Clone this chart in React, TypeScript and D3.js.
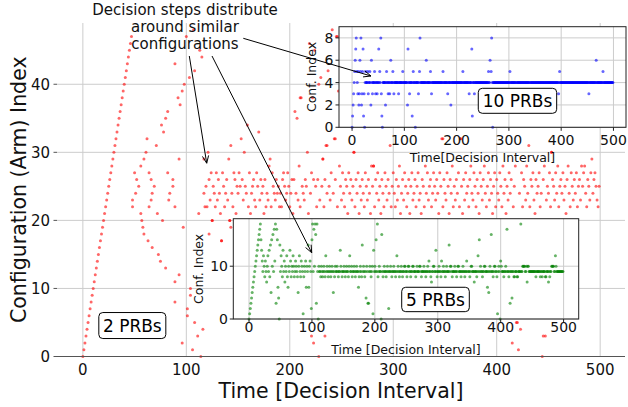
import React from 'react';
import * as d3 from 'd3';

const W = 628;
const H = 407;
const FONT = '"DejaVu Sans", sans-serif';

// ---------- tick labels ----------
const mainXTicks = [0, 100, 200, 300, 400, 500];
const mainYTicks = [0, 10, 20, 30, 40];
const insetXTicks = [0, 100, 200, 300, 400, 500];
const greenYTicks = [0, 10];
const blueYTicks = [0, 2, 4, 6, 8];

// ---------- 2 PRBs (red) ----------
const redRamp = [0, 1, 2, 3, 4, 5, 6, 7, 8, 9, 10, 11, 12, 13, 14, 15, 16, 17, 18, 19, 20, 21, 22, 23,
  24, 25, 26, 27, 28, 29, 30, 31, 32, 33, 34, 35, 36, 37, 38, 39, 40, 41, 42, 43, 44, 45, 46, 47];

const redEarly: [number, number][] = [
  [48, 22], [48, 23], [50, 27], [51, 24], [52, 26], [54, 25], [56, 21], [57, 20], [56, 28], [58, 19],
  [59, 18], [59, 29], [61, 30], [62, 32], [63, 17], [64, 27], [64, 22], [66, 26], [66, 23], [67, 24],
  [69, 25], [72, 21], [77, 20], [67, 16], [71, 31], [73, 15], [75, 14], [76, 34], [80, 35], [78, 33],
  [80, 13], [82, 27], [82, 36], [84, 24], [83, 23], [87, 26], [87, 25], [89, 22], [89, 43], [89, 11],
  [89, 8], [92, 38], [93, 12], [93, 29], [94, 37], [96, 39], [96, 2], [97, 19], [98, 40], [100, 47],
  [101, 7], [101, 6], [103, 41], [104, 9], [104, 10], [106, 1], [108, 42], [107, 48], [108, 5], [111, 3],
  [112, 21], [113, 45], [115, 44], [114, 0], [116, 4], [117, 29], [117, 24], [118, 22], [119, 25],
];

const redSteadyStart = 120;
const redSteady = [
  22, 30, 26, 23, 27, 20, 25, 24, 22, 27, 23, 26, 24, 21, 17, 27, 25, 22, 24, 26,
  23, 29, 20, 31, 24, 22, 27, 26, 21, 25, 24, 27, 25, 32, 26, 23, 30, 25, 24, 34,
  22, 27, 21, 24, 25, 26, 23, 22, 27, 25, 33, 23, 26, 24, 25, 21, 26, 22, 24, 23,
  28, 29, 22, 27, 25, 24, 23, 26, 24, 25, 22, 24, 22, 26, 27, 25, 23, 24, 27, 25,
  22, 24, 26, 21, 26, 36, 24, 35, 23, 28, 22, 38, 25, 24, 23, 26, 25, 30, 21, 46,
  24, 27, 38, 26, 45, 25, 22, 26, 40, 23, 41, 25, 29, 22, 26, 31, 24, 42, 25, 23,
  27, 48, 24, 32, 26, 47, 22, 39, 28, 25, 23, 27, 24, 22, 26, 25, 21, 27, 24, 26,
  23, 25, 30, 22, 26, 24, 27, 21, 25, 23, 26, 24, 22, 27, 25, 23, 26, 24, 21, 28,
  25, 28, 22, 26, 24, 27, 23, 25, 21, 26, 24, 22, 27, 25, 23, 26, 24, 31, 22, 25,
  27, 24, 22, 26, 23, 25, 28, 21, 24, 26, 23, 27, 25, 22, 24, 26, 21, 25, 27, 23,
  24, 26, 22, 25, 27, 23, 24, 21, 26, 25, 22, 28, 24, 27, 23, 25, 26, 22, 24, 27,
  25, 23, 26, 24, 21, 27, 25, 32, 22, 26, 24, 23, 27, 25, 21, 26, 24, 28, 22, 25,
  23, 26, 24, 27, 22, 32, 25, 21, 26, 23, 27, 24, 25, 22, 26, 28, 24, 23, 27, 25,
  22, 26, 24, 21, 27, 25, 23, 26, 28, 24, 22, 25, 27, 23, 26, 24, 21, 25, 27, 22,
  26, 24, 23, 27, 25, 22, 28, 24, 26, 21, 25, 23, 27, 24, 26, 2, 22, 25, 28, 5,
  5, 1, 24, 4, 27, 22, 26, 25, 23, 28, 24, 31, 22, 26, 25, 27, 23, 21, 26, 24,
  25, 27, 22, 24, 0, 26, 28, 3, 23, 25, 24, 27, 22, 30, 26, 25, 23, 27, 24, 28,
  22, 25, 26, 24, 27, 23, 25, 21, 26, 28, 24, 22, 27, 25, 23, 26, 24, 27, 22, 25,
  26, 23, 28, 25, 27, 28, 24, 22, 26, 25, 23, 27, 29, 24, 26, 27, 25, 23, 22, 25,
];

const redExtra: [number, number][] = [
  [122, 18], [125, 20], [134, 17], [143, 19], [142, 20], [221, 3], [223, 2], [228, 0], [234, 3],
  [262, 30], [348, 32], [365, 32], [281, 28], [453, 30], [445, 3], [210, 38], [246, 47], [232, 29],
  [244, 32], [236, 31],
];

// ---------- 5 PRBs (green), one value per decision step ----------
const greenSeq = [
  0, 1, 2, 3, 4, 5, 6, 7, 8, 9, 10, 11, 12, 13, 14, 15, 16, 17, 18, 15,
  13, 11, 9, 12, 10, 8, 11, 9, 7, 10, 12, 9, 13, 8, 14, 5, 15, 10, 16, 9,
  17, 11, 18, 3, 17, 15, 6, 4, 0, 14, 9, 12, 10, 8, 13, 9, 11, 7, 10, 9,
  12, 8, 6, 10, 9, 13, 11, 8, 10, 9, 12, 10, 8, 9, 11, 10, 9, 8, 5, 10,
  12, 9, 8, 11, 10, 9, 1, 8, 10, 9, 11, 6, 10, 9, 14, 6, 10, 11, 9, 2,
  15, 18, 9, 17, 10, 18, 16, 3, 18, 9, 0, 10, 9, 9, 8, 10, 9, 8, 9, 10,
  9, 8, 12, 9, 10, 9, 8, 9, 10, 9, 8, 9, 10, 9, 5, 9, 8, 10, 9, 9,
  10, 9, 8, 9, 9, 13, 10, 9, 8, 9, 9, 10, 9, 8, 9, 10, 9, 9, 8, 10,
  12, 9, 9, 10, 8, 9, 9, 10, 9, 8, 9, 10, 9, 9, 6, 8, 9, 10, 9, 8,
  14, 9, 10, 9, 8, 9, 4, 10, 9, 3, 3, 9, 10, 9, 8, 9, 10, 1, 13, 9,
  10, 9, 15, 9, 18, 8, 9, 10, 9, 9, 0, 16, 9, 8, 9, 10, 9, 9, 8, 9,
  10, 9, 2, 9, 9, 10, 9, 8, 9, 9, 10, 9, 9, 8, 9, 12, 9, 10, 9, 8,
  9, 9, 10, 9, 8, 9, 9, 10, 10, 9, 9, 8, 9, 10, 10, 9, 9, 8, 9, 9,
  10, 10, 9, 9, 9, 8, 9, 10, 9, 9, 9, 10, 10, 9, 8, 9, 9, 9, 10, 9,
  9, 8, 9, 9, 10, 9, 11, 9, 9, 8, 7, 9, 9, 10, 10, 9, 9, 13, 9, 8,
  9, 9, 10, 9, 9, 8, 11, 9, 9, 10, 9, 9, 8, 9, 10, 9, 9, 9, 14, 9,
  10, 10, 9, 8, 9, 9, 9, 10, 9, 9, 8, 9, 10, 10, 9, 9, 9, 8, 9, 9,
  10, 9, 9, 8, 9, 9, 11, 9, 2, 9, 9, 8, 9, 10, 10, 9, 9, 9, 7, 9,
  9, 9, 8, 9, 12, 9, 15, 9, 10, 9, 9, 8, 9, 9, 10, 10, 9, 9, 9, 6,
  9, 5, 9, 10, 9, 16, 9, 9, 8, 9, 10, 10, 9, 9, 8, 1, 9, 10, 9, 0,
  11, 10, 9, 9, 9, 8, 9, 9, 10, 9, 17, 9, 9, 8, 9, 3, 9, 9, 4, 9,
  9, 8, 8, 9, 9, 9, 8, 8, 9, 9, 9, 9, 18, 9, 9, 10, 10, 10, 10, 9,
  9, 10, 7, 10, 10, 9, 9, 9, 9, 9, 9, 9, 9, 9, 9, 9, 8, 9, 9, 9,
  9, 9, 9, 8, 9, 9, 8, 9, 9, 9, 9, 8, 8, 9, 9, 9, 7, 9, 8, 9,
  9, 10, 10, 10, 10, 9, 9, 12, 10, 9, 9, 9, 9, 9, 9, 9, 9, 9, 9, 9,
];

// ---------- 10 PRBs (blue), one digit per decision step ----------
const blueSeq = [
  '0123456785', '4352365823', '5713045444', '5344542643', '4445434434',
  '4745483104', '4444245443', '4434644454', '3444444443', '4444444544',
  '4444442744', '3444414544', '4044444345', '8444444444', '4464444444',
  '5434444444', '4444444444', '4444544444', '4443444442', '4444444444',
  '4444444444', '4454444444', '4444344447', '1444344444', '4444444444',
  '4444444444', '4544635840', '4444444444', '4444444444', '4444444444',
  '4454444444', '4444344444', '4444444444', '4444444444', '3444444444',
  '4444444444', '4444444444', '4444444444', '4444444444', '4444434544',
  '4444444444', '4444444444', '4444444444', '4444444444', '4444444444',
  '4443444444', '4444444644', '4444444444', '5444444444', '4444444444',
];

// ---------- build point tables ----------
const redPoints: [number, number][] = [
  ...redRamp.map((v, i) => [i, v] as [number, number]),
  ...redEarly,
  ...redSteady.map((v, i) => [redSteadyStart + i, v] as [number, number]),
  ...redExtra,
];
const greenPoints: [number, number][] = greenSeq.map((v, i) => [i, v]);
const bluePoints: [number, number][] = blueSeq.join('').split('').map((c, i) => [i, +c]);

const GRID = '#cccccc';

function Arrow({ x1, y1, x2, y2 }: { x1: number; y1: number; x2: number; y2: number }) {
  const a = Math.atan2(y2 - y1, x2 - x1);
  const L = 8;
  const ang = 0.4;
  const p1 = [x2 - L * Math.cos(a - ang), y2 - L * Math.sin(a - ang)];
  const p2 = [x2 - L * Math.cos(a + ang), y2 - L * Math.sin(a + ang)];
  return (
    <g stroke="black" strokeWidth={1} fill="none">
      <line x1={x1} y1={y1} x2={x2} y2={y2} />
      <path d={`M${p1[0]},${p1[1]}L${x2},${y2}L${p2[0]},${p2[1]}`} />
    </g>
  );
}

function Box({ cx, cy, w, h, text, size }: { cx: number; cy: number; w: number; h: number; text: string; size: number }) {
  return (
    <g>
      <rect x={cx - w / 2} y={cy - h / 2} width={w} height={h} rx={4} ry={4} fill="white" stroke="black" strokeWidth={1} />
      <text x={cx} y={cy} dy="0.36em" textAnchor="middle" fontSize={size} fontFamily={FONT} fill="black">{text}</text>
    </g>
  );
}

type InsetProps = {
  left: number; right: number; top: number; bottom: number;
  yMax: number; yTicks: number[]; points: [number, number][]; color: string;
  xLabel: string; xLabelY: number; yLabelX: number; xTickY: number; yTickX: number;
};

function Inset(p: InsetProps) {
  const x = d3.scaleLinear().domain([-25, 524]).range([p.left, p.right]);
  const y = d3.scaleLinear().domain([0, p.yMax]).range([p.bottom, p.top]);
  return (
    <g>
      <rect x={p.left} y={p.top} width={p.right - p.left} height={p.bottom - p.top} fill="white" />
      {insetXTicks.map((t) => (
        <line key={'gx' + t} x1={x(t)} x2={x(t)} y1={p.top} y2={p.bottom} stroke={GRID} strokeWidth={1} />
      ))}
      {p.yTicks.map((t) => (
        <line key={'gy' + t} x1={p.left} x2={p.right} y1={y(t)} y2={y(t)} stroke={GRID} strokeWidth={1} />
      ))}
      {p.points.map(([t, v], i) => (
        <circle key={i} cx={x(t)} cy={y(v)} r={1.5} fill={p.color} fillOpacity={0.6} />
      ))}
      <rect x={p.left} y={p.top} width={p.right - p.left} height={p.bottom - p.top} fill="none" stroke="#222" strokeWidth={1} />
      {insetXTicks.map((t) => (
        <g key={'tx' + t}>
          <line x1={x(t)} x2={x(t)} y1={p.bottom} y2={p.bottom + 3.5} stroke="#222" />
          <text x={x(t)} y={p.xTickY} textAnchor="middle" fontSize={14} fontFamily={FONT} fill="#111">{t}</text>
        </g>
      ))}
      {p.yTicks.map((t) => (
        <g key={'ty' + t}>
          <line x1={p.left - 3.5} x2={p.left} y1={y(t)} y2={y(t)} stroke="#222" />
          <text x={p.yTickX} y={y(t)} dy="0.36em" textAnchor="end" fontSize={14} fontFamily={FONT} fill="#111">{t}</text>
        </g>
      ))}
      <text x={(p.left + p.right) / 2} y={p.xLabelY} textAnchor="middle" fontSize={12.5} fontFamily={FONT} fill="#111">{p.xLabel}</text>
      <text transform={`translate(${p.yLabelX},${(p.top + p.bottom) / 2}) rotate(-90)`} textAnchor="middle" fontSize={12.5} fontFamily={FONT} fill="#111">Conf. Index</text>
    </g>
  );
}

export default function App() {
  const mx = d3.scaleLinear().domain([-25, 524]).range([57, 625]);
  const my = d3.scaleLinear().domain([0, 49]).range([356.5, 23]);

  const gx = d3.scaleLinear().domain([-25, 524]).range([233.3, 578.7]);
  const gy = d3.scaleLinear().domain([0, 19]).range([319, 218.7]);
  const bx = d3.scaleLinear().domain([-25, 524]).range([339, 626]);
  const by = d3.scaleLinear().domain([0, 9]).range([127.3, 26.7]);

  return (
    <svg width={W} height={H} style={{ position: 'absolute', left: 0, top: 0, background: 'white' }}>
      {/* main grid */}
      {mainXTicks.map((t) => (
        <line key={'mgx' + t} x1={mx(t)} x2={mx(t)} y1={23} y2={356.5} stroke={GRID} strokeWidth={1} />
      ))}
      {mainYTicks.map((t) => (
        <line key={'mgy' + t} x1={57} x2={625} y1={my(t)} y2={my(t)} stroke={GRID} strokeWidth={1} />
      ))}
      {/* red points */}
      {redPoints.map(([t, v], i) => (
        <circle key={'r' + i} cx={mx(t)} cy={my(v)} r={1.5} fill="red" fillOpacity={0.6} />
      ))}
      {/* axis */}
      <line x1={57} x2={625} y1={356.5} y2={356.5} stroke="#555" strokeWidth={1} />
      {mainYTicks.map((t) => (
        <g key={'mty' + t}>
          <line x1={53.5} x2={57} y1={my(t)} y2={my(t)} stroke="#555" />
          <text x={50} y={my(t)} dy="0.36em" textAnchor="end" fontSize={15} fontFamily={FONT} fill="#111">{t}</text>
        </g>
      ))}
      {mainXTicks.map((t) => (
        <text key={'mtx' + t} x={mx(t)} y={375} textAnchor="middle" fontSize={15} fontFamily={FONT} fill="#111">{t}</text>
      ))}
      <text x={341} y={398} textAnchor="middle" fontSize={20.5} fontFamily={FONT} fill="#111">Time [Decision Interval]</text>
      <text transform={`translate(25.5,${(23 + 356.5) / 2}) rotate(-90)`} textAnchor="middle" fontSize={20.5} fontFamily={FONT} fill="#111">Configuration (Arm) Index</text>

      <Box cx={mx(47.8)} cy={my(4.55)} w={67} h={26} text="2 PRBs" size={17} />

      {/* 5 PRBs inset */}
      <Inset left={233.3} right={578.7} top={218.7} bottom={319} yMax={19} yTicks={greenYTicks}
        points={greenPoints} color="green" xLabel="Time [Decision Interval]" xLabelY={354}
        yLabelX={203} xTickY={332} yTickX={228} />
      <Box cx={gx(296.4)} cy={gy(3.7)} w={67.6} h={24.4} text="5 PRBs" size={17} />

      {/* 10 PRBs inset */}
      <Inset left={339} right={626} top={26.7} bottom={127.3} yMax={9} yTicks={blueYTicks}
        points={bluePoints} color="blue" xLabel="Time[Decision Interval]" xLabelY={162}
        yLabelX={316} xTickY={145} yTickX={333.5} />
      <Box cx={bx(316.4)} cy={by(2.37)} w={78.4} h={25} text="10 PRBs" size={17} />

      {/* annotation */}
      <g fontSize={15} fontFamily={FONT} fill="#111" textAnchor="middle">
        <text x={185} y={15}>Decision steps distribute</text>
        <text x={185} y={32}>around similar</text>
        <text x={185} y={49}>configurations</text>
      </g>
      <Arrow x1={189.3} y1={56} x2={mx(119.7)} y2={my(28.4)} />
      <Arrow x1={212} y1={56} x2={gx(99.6)} y2={gy(12.56)} />
      <Arrow x1={243.3} y1={38.3} x2={bx(36.2)} y2={by(4.59)} />
    </svg>
  );
}
